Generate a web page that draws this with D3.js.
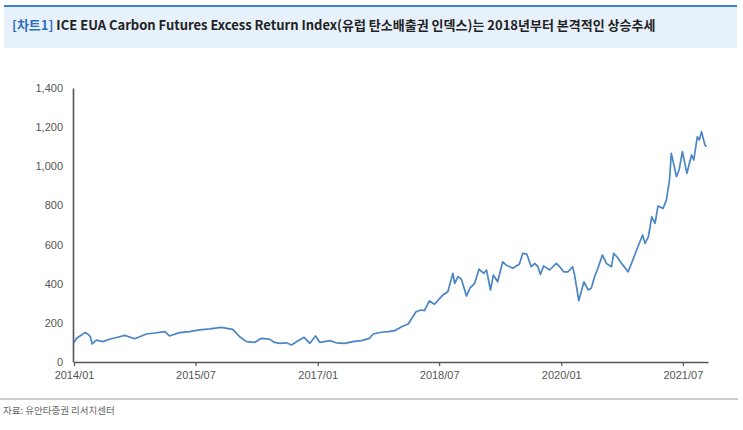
<!DOCTYPE html>
<html>
<head>
<meta charset="utf-8">
<script src="https://cdn.jsdelivr.net/npm/d3@7"></script>
<style>
  body { margin: 0; background: #fff; }
  svg { display: block; }
</style>
</head>
<body>
<div id="chart"></div>
<script>
const width = 743;
const height = 430;

// data
const dates = [
    "2014-01-01", "2014-01-13", "2014-02-19", "2014-03-04", "2014-03-15", "2014-03-24", "2014-04-11",
    "2014-05-10", "2014-06-10", "2014-07-25", "2014-08-17", "2014-10-01", "2014-11-23", "2014-12-22",
    "2015-02-14", "2015-03-06", "2015-04-20", "2015-06-04", "2015-07-19", "2015-09-03", "2015-10-25",
    "2015-12-16", "2016-01-16", "2016-02-16", "2016-03-23", "2016-04-22", "2016-05-29", "2016-06-21",
    "2016-07-14", "2016-08-13", "2016-09-05", "2016-10-05", "2016-11-01", "2016-11-26", "2016-12-22",
    "2017-01-11", "2017-02-25", "2017-03-25", "2017-05-02", "2017-06-08", "2017-07-16", "2017-08-22",
    "2017-09-07", "2017-10-14", "2017-11-14", "2017-12-13", "2018-01-13", "2018-02-12", "2018-03-19",
    "2018-04-11", "2018-04-26", "2018-05-18", "2018-06-10", "2018-07-17", "2018-08-09", "2018-09-01",
    "2018-09-09", "2018-09-24", "2018-10-09", "2018-11-01", "2018-11-16", "2018-12-08", "2018-12-27",
    "2019-01-18", "2019-01-30", "2019-02-17", "2019-03-02", "2019-03-21", "2019-04-13", "2019-04-28",
    "2019-05-28", "2019-06-27", "2019-07-12", "2019-07-30", "2019-08-19", "2019-09-04", "2019-09-18",
    "2019-09-29", "2019-10-14", "2019-11-10", "2019-12-10", "2019-12-25", "2020-01-12", "2020-02-01",
    "2020-02-21", "2020-03-01", "2020-03-20", "2020-04-12", "2020-05-01", "2020-05-15", "2020-05-30",
    "2020-06-14", "2020-07-04", "2020-07-22", "2020-08-14", "2020-08-24", "2020-09-09", "2020-09-28",
    "2020-10-28", "2020-11-12", "2020-12-05", "2021-01-01", "2021-01-12", "2021-01-27", "2021-02-11",
    "2021-02-26", "2021-03-11", "2021-04-03", "2021-04-18", "2021-05-02", "2021-05-10", "2021-06-02",
    "2021-06-14", "2021-06-29", "2021-07-19", "2021-08-09", "2021-08-19", "2021-09-04", "2021-09-13",
    "2021-09-23", "2021-10-08", "2021-10-15"
];
const values = [
    100, 121, 150, 143, 130, 92, 112,
    104, 116, 129, 136, 119, 143, 147,
    155, 133, 150, 155, 164, 169, 177,
    167, 129, 104, 100, 121, 117, 100,
    95, 98, 87, 109, 126, 95, 133,
    100, 109, 98, 95, 104, 109, 121,
    143, 152, 155, 160, 180, 194, 257,
    266, 262, 312, 295, 342, 359, 453,
    402, 436, 423, 337, 377, 402, 474,
    453, 470, 368, 445, 410, 512, 496,
    479, 501, 555, 552, 487, 504, 487,
    448, 491, 470, 504, 487, 461, 461,
    487, 445, 313, 410, 368, 377, 436,
    479, 547, 504, 487, 555, 535, 504,
    461, 504, 572, 649, 606, 640, 742,
    709, 797, 785, 828, 930, 1066, 947,
    981, 1075, 964, 1058, 1032, 1151, 1134,
    1177, 1109, 1100
];
const xTicks = ["2014-01-01", "2015-07-01", "2017-01-01", "2018-07-01", "2020-01-01", "2021-07-01"];
const yTicks = [0, 200, 400, 600, 800, 1000, 1200, 1400];

const titleTag = "[차트1]";
const titleText = " ICE EUA Carbon Futures Excess Return Index(유럽 탄소배출권 인덱스)는 2018년부터 본격적인 상승추세";
const sourceText = "자료: 유안타증권 리서치센터";

const parseDate = d3.timeParse("%Y-%m-%d");
const series = dates.map((d, i) => ({ date: parseDate(d), value: values[i] }));

const svg = d3.select("#chart")
    .append("svg")
    .attr("width", width)
    .attr("height", height);

// title banner
svg.append("rect")
    .attr("x", 4).attr("y", 6)
    .attr("width", 733).attr("height", 42)
    .attr("fill", "#e7f1fc");
svg.append("rect")
    .attr("x", 4).attr("y", 5)
    .attr("width", 733).attr("height", 2)
    .attr("fill", "#3f7ec9");

const title = svg.append("text")
    .attr("x", 12).attr("y", 30)
    .style("font-family", "'Noto Sans CJK KR', 'Noto Sans', sans-serif")
    .style("font-weight", "bold")
    .style("font-size", "13px");
title.append("tspan").attr("fill", "#2f6fc0").text(titleTag);
title.append("tspan").attr("fill", "#222").text(titleText);

const x = d3.scaleTime()
    .domain([parseDate("2014-01-01"), parseDate("2021-10-22")])
    .range([74, 708]);

const y = d3.scaleLinear()
    .domain([0, 1400])
    .range([362, 88]);

const axisFont = "'Liberation Sans', Arial, sans-serif";

// x axis
const xAxis = svg.append("g")
    .attr("transform", "translate(0,362)")
    .call(d3.axisBottom(x)
        .tickValues(xTicks.map(parseDate))
        .tickSize(4)
        .tickSizeOuter(0)
        .tickFormat(d3.timeFormat("%Y/%m")));
xAxis.select(".domain").attr("stroke", "#555").attr("stroke-width", 1.6);
xAxis.selectAll(".tick line").attr("stroke", "#555").attr("stroke-width", 1.2);
xAxis.selectAll("text")
    .attr("dy", "0.95em")
    .attr("fill", "#555")
    .style("font-family", axisFont)
    .style("font-size", "11px");

// y axis
const yAxis = svg.append("g")
    .attr("transform", "translate(73,0)")
    .call(d3.axisLeft(y)
        .tickValues(yTicks)
        .tickSize(0)
        .tickPadding(10)
        .tickFormat(d3.format(",")));
yAxis.select(".domain").attr("stroke", "#555").attr("stroke-width", 1.6);
yAxis.selectAll("text")
    .attr("fill", "#555")
    .style("font-family", axisFont)
    .style("font-size", "11px");

// the index line
const line = d3.line()
    .x(d => x(d.date))
    .y(d => y(d.value));

svg.append("path")
    .datum(series)
    .attr("fill", "none")
    .attr("stroke", "#4a86c6")
    .attr("stroke-width", 1.7)
    .attr("stroke-linejoin", "round")
    .attr("d", line);

// source note
svg.append("line")
    .attr("x1", 0).attr("x2", 738)
    .attr("y1", 399).attr("y2", 399)
    .attr("stroke", "#999")
    .attr("stroke-width", 1);
svg.append("text")
    .attr("x", 3).attr("y", 414)
    .attr("fill", "#666")
    .style("font-family", "'Noto Sans CJK KR', sans-serif")
    .style("font-size", "9.5px")
    .text(sourceText);
</script>
</body>
</html>
